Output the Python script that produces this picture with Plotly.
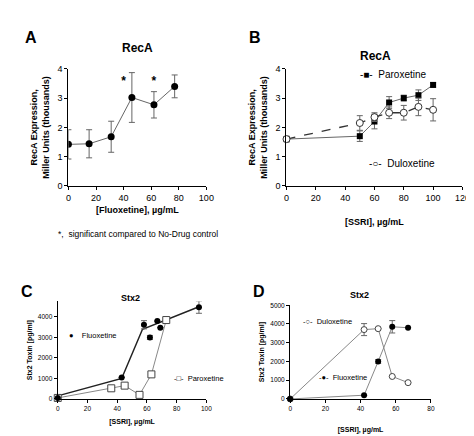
import plotly.graph_objects as go

# Panel A - RecA vs fluoxetine
a_x = [0, 15, 31, 46, 62, 77]
a_y = [1.42, 1.44, 1.68, 3.02, 2.77, 3.40]
a_err = [0.50, 0.48, 0.53, 0.85, 0.45, 0.39]
a_star_x = [40, 62, 79]
a_star_y = [3.55, 3.55, 4.1]

# Panel B - RecA vs SSRI
b_x = [0, 50, 60, 70, 80, 90, 100]
b_parox = [1.60, 1.70, 2.20, 2.85, 3.00, 3.10, 3.45]
b_parox_err = [0.08, 0.18, 0.25, 0.20, 0.10, 0.18, 0.08]
b_dulox = [1.60, 2.15, 2.35, 2.50, 2.50, 2.70, 2.60]
b_dulox_err = [0.10, 0.25, 0.15, 0.20, 0.25, 0.30, 0.38]

# Panel C - Stx2
c_flu_x = [0, 43, 58, 62, 67, 69, 95]
c_flu_y = [50, 1050, 3620, 3000, 3800, 3480, 4480]
c_flu_err = [0, 0, 200, 100, 0, 0, 300]
c_fit_x = [0, 43, 57, 73, 95]
c_fit_y = [150, 1000, 3400, 3850, 4500]
c_par_x = [0, 36, 45, 55, 63, 73]
c_par_y = [50, 520, 650, 200, 1200, 3850]

# Panel D - Stx2
d_x = [0, 42, 50, 58, 67]
d_dulox = [0, 3700, 3750, 1200, 870]
d_dulox_err = [0, 320, 0, 0, 0]
d_flu = [0, 200, 2000, 3850, 3800]
d_flu_err = [0, 0, 100, 330, 0]

FONT = "Liberation Sans"
GREY = "#666666"

fig = go.Figure()

err_style = dict(type="data", thickness=1, width=3, color=GREY)

fig.add_trace(go.Scatter(x=a_x, y=a_y, error_y=dict(array=a_err, **err_style),
                         mode="lines+markers", line=dict(color=GREY, width=1),
                         marker=dict(color="black", size=7), xaxis="x", yaxis="y"))
fig.add_trace(go.Scatter(x=a_star_x, y=a_star_y, mode="text", text=["<b>*</b>"] * 3, cliponaxis=False,
                         textfont=dict(size=12, color="black", family=FONT), xaxis="x", yaxis="y"))

fig.add_trace(go.Scatter(x=b_x, y=b_parox, error_y=dict(array=b_parox_err, **err_style),
                         mode="lines+markers", line=dict(color=GREY, width=1), cliponaxis=False,
                         marker=dict(color="black", size=6, symbol="square"), xaxis="x2", yaxis="y2"))
fig.add_trace(go.Scatter(x=b_x, y=b_dulox, error_y=dict(array=b_dulox_err, **err_style),
                         mode="lines+markers", line=dict(color="#333333", width=1.3, dash="dash"),
                         cliponaxis=False,
                         marker=dict(color="white", size=7, symbol="circle",
                                     line=dict(color="#333333", width=1)), xaxis="x2", yaxis="y2"))

fig.add_trace(go.Scatter(x=c_fit_x, y=c_fit_y, mode="lines", line=dict(color="#222222", width=1.5),
                         xaxis="x3", yaxis="y3"))
fig.add_trace(go.Scatter(x=c_par_x, y=c_par_y, mode="lines+markers", line=dict(color="#888888", width=1),
                         cliponaxis=False,
                         marker=dict(color="white", size=7, symbol="square",
                                     line=dict(color="#444444", width=1)), xaxis="x3", yaxis="y3"))
fig.add_trace(go.Scatter(x=c_flu_x, y=c_flu_y, error_y=dict(array=c_flu_err, **err_style),
                         mode="markers", marker=dict(color="black", size=6), cliponaxis=False,
                         xaxis="x3", yaxis="y3"))

fig.add_trace(go.Scatter(x=d_x, y=d_dulox, error_y=dict(array=d_dulox_err, **err_style),
                         mode="lines+markers", line=dict(color="#888888", width=1), cliponaxis=False,
                         marker=dict(color="white", size=6, line=dict(color="#444444", width=1)),
                         xaxis="x4", yaxis="y4"))
fig.add_trace(go.Scatter(x=d_x, y=d_flu, error_y=dict(array=d_flu_err, **err_style),
                         mode="lines+markers", line=dict(color="#888888", width=1), cliponaxis=False,
                         marker=dict(color="black", size=6), xaxis="x4", yaxis="y4"))

ax = dict(showgrid=False, zeroline=False, showline=True, linecolor="black", linewidth=1.3,
          ticks="outside", ticklen=3, tickcolor="black",
          tickfont=dict(size=9, family=FONT, color="black"))
small = dict(size=6.5, family=FONT, color="black")

fig.update_layout(
    width=474, height=436, margin=dict(l=0, r=0, t=0, b=0),
    plot_bgcolor="white", paper_bgcolor="white", showlegend=False,
    font=dict(family=FONT, color="black"),
    xaxis=dict(ax, domain=[0.124, 0.422], range=[0, 100], dtick=20, anchor="y",
               title=dict(text="<b>[Fluoxetine], µg/mL</b>", font=dict(size=9, family=FONT), standoff=4)),
    yaxis=dict(ax, domain=[0.594, 0.869], range=[0, 4], dtick=1, anchor="x",
               title=dict(text="<b>RecA Expression,<br>Miller Units (thousands)</b>",
                          font=dict(size=9, family=FONT), standoff=6)),
    xaxis2=dict(ax, domain=[0.595, 0.975], range=[0, 120], dtick=20, anchor="y2",
                title=dict(text="<b>[SSRI], µg/mL</b>", font=dict(size=9, family=FONT), standoff=16)),
    yaxis2=dict(ax, domain=[0.594, 0.869], range=[0, 4], dtick=1, anchor="x2",
                title=dict(text="<b>RecA Expression,<br>Miller Units (thousands)</b>",
                           font=dict(size=9, family=FONT), standoff=6)),
    xaxis3=dict(ax, domain=[0.101, 0.422], range=[0, 100], dtick=20, anchor="y3", tickfont=small,
                title=dict(text="<b>[SSRI], µg/mL</b>", font=dict(size=7, family=FONT), standoff=8)),
    yaxis3=dict(ax, domain=[0.094, 0.323], range=[0, 4760], tickvals=[0, 1000, 2000, 3000, 4000],
                anchor="x3", tickfont=small,
                title=dict(text="<b>Stx2 Toxin [pg/ml]</b>", font=dict(size=7, family=FONT), standoff=4)),
    xaxis4=dict(ax, domain=[0.603, 0.907], range=[0, 80], dtick=20, anchor="y4", tickfont=small,
                title=dict(text="<b>[SSRI], µg/mL</b>", font=dict(size=7, family=FONT), standoff=16)),
    yaxis4=dict(ax, domain=[0.094, 0.314], range=[0, 5000], dtick=1000, anchor="x4", tickfont=small,
                title=dict(text="<b>Stx2 Toxin [pg/ml]</b>", font=dict(size=7, family=FONT), standoff=4)),
)

def note(text, x, y, size, xanchor="center", bold=True):
    fig.add_annotation(text=f"<b>{text}</b>" if bold else text, x=x / 474, y=1 - y / 436,
                       xref="paper", yref="paper", showarrow=False, xanchor=xanchor,
                       font=dict(size=size, family=FONT, color="black"))

note("A", 12, 14, 16, "left")
note("B", 242, 14, 16, "left")
note("C", 8, 296, 16, "left")
note("D", 246, 296, 16, "left")
note("RecA", 130, 27, 12)
note("RecA", 373, 35, 12)
note("Stx2", 122, 299, 9)
note("Stx2", 357, 289, 9)
note("*,  significant compared to No-Drug control", 130, 226, 8.5, bold=False)

# legend-like labels drawn inline
note("-■-  Paroxetine", 355, 55, 10, "left", bold=False)
note("-○-  Duloxetine", 364, 154, 10, "left", bold=False)
note("●    Fluoxetine", 57, 337, 7.5, "left", bold=False)
note("-□-  Paroxetine", 165, 381, 7.5, "left", bold=False)
note("-○-  Duloxetine", 297, 322, 7.5, "left", bold=False)
note("-●-  Fluoxetine", 313, 380, 7.5, "left", bold=False)

fig.write_html("out.html")
